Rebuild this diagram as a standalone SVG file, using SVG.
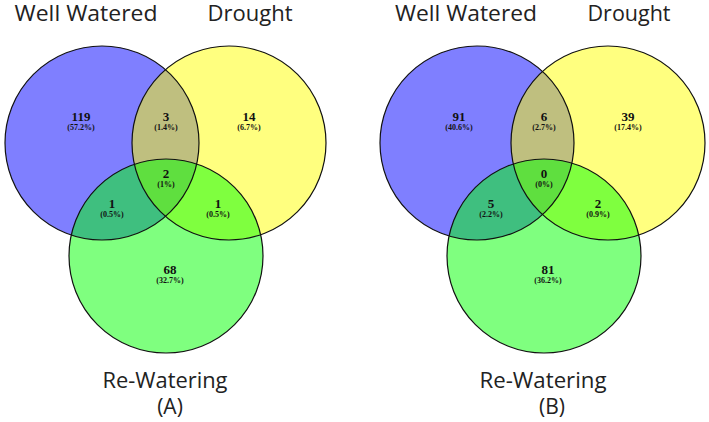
<svg xmlns="http://www.w3.org/2000/svg" width="709" height="422" viewBox="0 0 709 422">
<style>
.lbl{font-family:"Open Sans","Liberation Sans",sans-serif;font-size:21px;fill:#222;text-anchor:middle}
.n{font-family:"Liberation Serif",serif;font-weight:bold;font-size:13px;fill:#111;text-anchor:middle}
.p{font-family:"Liberation Serif",serif;font-weight:bold;font-size:8px;fill:#111;text-anchor:middle}
.ww{fill:#0000ff;fill-opacity:0.5}
.dr{fill:#ffff00;fill-opacity:0.5}
.rw{fill:#00ff00;fill-opacity:0.5}
.ol{fill:none;stroke:#111;stroke-width:1.2}
</style>
<rect width="709" height="422" fill="#fff"/>
<g id="panelA">
  <g id="A-well-watered"><circle class="ww" cx="102" cy="143" r="97"/><text class="lbl" x="86" y="21" textLength="143" lengthAdjust="spacingAndGlyphs">Well Watered</text></g>
  <g id="A-drought"><circle class="dr" cx="229" cy="143" r="97"/><text class="lbl" x="250" y="21" textLength="85" lengthAdjust="spacingAndGlyphs">Drought</text></g>
  <g id="A-rewatering"><circle class="rw" cx="166" cy="256" r="97"/><text class="lbl" x="165" y="388" textLength="125" lengthAdjust="spacingAndGlyphs">Re-Watering</text></g>
  <g id="A-outlines"><circle class="ol" cx="102" cy="143" r="97"/><circle class="ol" cx="229" cy="143" r="97"/><circle class="ol" cx="166" cy="256" r="97"/></g>
  <g id="A-counts">
    <text class="n" x="81" y="121">119</text><text class="p" x="81" y="130">(57.2%)</text>
    <text class="n" x="166" y="121">3</text><text class="p" x="166" y="130">(1.4%)</text>
    <text class="n" x="249" y="121">14</text><text class="p" x="249" y="130">(6.7%)</text>
    <text class="n" x="166" y="178">2</text><text class="p" x="166" y="187">(1%)</text>
    <text class="n" x="112" y="208">1</text><text class="p" x="112" y="217">(0.5%)</text>
    <text class="n" x="218" y="208">1</text><text class="p" x="218" y="217">(0.5%)</text>
    <text class="n" x="170" y="274">68</text><text class="p" x="170" y="283">(32.7%)</text>
  </g>
  <text class="lbl" x="170" y="414">(A)</text>
</g>
<g id="panelB">
  <g id="B-well-watered"><circle class="ww" cx="477" cy="143" r="97"/><text class="lbl" x="466" y="21" textLength="142" lengthAdjust="spacingAndGlyphs">Well Watered</text></g>
  <g id="B-drought"><circle class="dr" cx="608" cy="143" r="97"/><text class="lbl" x="629" y="21" textLength="83" lengthAdjust="spacingAndGlyphs">Drought</text></g>
  <g id="B-rewatering"><circle class="rw" cx="544" cy="256" r="97"/><text class="lbl" x="543" y="388" textLength="127" lengthAdjust="spacingAndGlyphs">Re-Watering</text></g>
  <g id="B-outlines"><circle class="ol" cx="477" cy="143" r="97"/><circle class="ol" cx="608" cy="143" r="97"/><circle class="ol" cx="544" cy="256" r="97"/></g>
  <g id="B-counts">
    <text class="n" x="459" y="121">91</text><text class="p" x="459" y="130">(40.6%)</text>
    <text class="n" x="544" y="121">6</text><text class="p" x="544" y="130">(2.7%)</text>
    <text class="n" x="628" y="121">39</text><text class="p" x="628" y="130">(17.4%)</text>
    <text class="n" x="544" y="178">0</text><text class="p" x="544" y="187">(0%)</text>
    <text class="n" x="491" y="208">5</text><text class="p" x="491" y="217">(2.2%)</text>
    <text class="n" x="598" y="208">2</text><text class="p" x="598" y="217">(0.9%)</text>
    <text class="n" x="548" y="274">81</text><text class="p" x="548" y="283">(36.2%)</text>
  </g>
  <text class="lbl" x="552" y="414">(B)</text>
</g>
</svg>
